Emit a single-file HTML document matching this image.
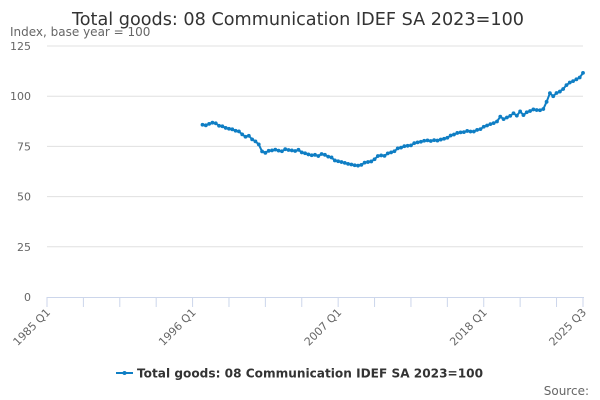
<!DOCTYPE html>
<html><head><meta charset="utf-8"><style>
html,body{margin:0;padding:0;background:#fff;}
svg{display:block;font-family:"DejaVu Sans","Liberation Sans",sans-serif;}
</style></head><body>
<svg id="chart" width="600" height="400" viewBox="0 0 600 400">
<text x="298" y="25" text-anchor="middle" font-size="18" fill="#333" textLength="452" lengthAdjust="spacingAndGlyphs">Total goods: 08 Communication IDEF SA 2023=100</text>
<text x="10" y="36" font-size="12" fill="#666">Index, base year = 100</text>
<g id="grid"></g>
<g id="yticks"></g>
<g id="xaxis"></g>
<g id="series"></g>
<g>
<line x1="116" y1="373" x2="133" y2="373" stroke="#0f7ec4" stroke-width="2"/>
<circle cx="124.5" cy="373" r="2" fill="#0f7ec4"/>
<text x="137" y="377.5" font-size="12" font-weight="bold" fill="#333" textLength="346" lengthAdjust="spacingAndGlyphs">Total goods: 08 Communication IDEF SA 2023=100</text>
</g>
<text x="589" y="395" text-anchor="end" font-size="12" fill="#666">Source:</text>
</svg>
<script>
const startQuarter = 47; // index from 1985 Q1
const values = [85.8,85.5,86.2,86.8,86.5,85.3,85.0,84.2,83.8,83.5,82.8,82.5,81.0,79.8,80.3,78.5,77.5,76.0,72.5,71.8,
72.8,73.0,73.4,72.9,72.6,73.6,73.2,73.0,72.7,73.3,72.0,71.6,71.0,70.6,70.8,70.2,71.2,70.8,69.9,69.5,
68.0,67.6,67.2,66.8,66.3,66.0,65.6,65.4,65.8,66.9,67.2,67.5,68.6,70.2,70.5,70.3,71.5,72.0,72.6,74.0,
74.4,75.1,75.3,75.5,76.6,77.0,77.3,77.8,78.0,77.7,78.1,77.9,78.4,78.8,79.3,80.4,80.9,81.7,82.0,82.1,
82.7,82.4,82.4,83.2,83.6,84.8,85.4,86.1,86.6,87.4,89.8,88.6,89.4,90.2,91.5,90.3,92.4,90.6,92.0,92.6,
93.4,93.1,93.0,93.6,97.2,101.5,100.0,101.6,102.3,103.6,105.5,106.8,107.5,108.4,109.3,111.6];
const yTicks = [0,25,50,75,100,125];
const xLabels = ["1985 Q1","1996 Q1","2007 Q1","2018 Q1","2025 Q3"];
const xLabelQuarters = [0,44,88,132,162];
const totalQuarters = 162;

const NS="http://www.w3.org/2000/svg";
const L=47,R=583,B=297,T=46;
const xs=q=>L+(R-L)*q/totalQuarters;
const ys=v=>B-(B-T)*v/125;
function mk(tag,attrs,parent){const e=document.createElementNS(NS,tag);for(const k in attrs)e.setAttribute(k,attrs[k]);parent.appendChild(e);return e;}
const grid=document.getElementById('grid'),yt=document.getElementById('yticks'),xa=document.getElementById('xaxis'),se=document.getElementById('series');
yTicks.forEach(v=>{
  if(v>0){const g=mk('line',{x1:L,x2:R,y1:ys(v),y2:ys(v),stroke:'#e0e0e0','stroke-width':1},grid);
  
  }
  const t=mk('text',{x:31,y:ys(v)+4,'text-anchor':'end','font-size':11,fill:'#666'},yt);
  t.textContent=v;
  
  
});
const ax=mk('line',{x1:L,x2:R+1,y1:B+0.5,y2:B+0.5,stroke:'#ccd6eb','stroke-width':1},xa);


const tickQs=[];for(let q=0;q<totalQuarters-5;q+=11)tickQs.push(q);tickQs.push(totalQuarters);
tickQs.forEach(q=>{const l=mk('line',{x1:xs(q),x2:xs(q),y1:B,y2:B+10,stroke:'#ccd6eb','stroke-width':1},xa);

});
xLabels.forEach((s,i)=>{const x=xs(xLabelQuarters[i]);
  const t=mk('text',{x:x+4,y:B+16,'text-anchor':'end','font-size':11,fill:'#666',transform:`rotate(-45 ${x+4} ${B+16})`},xa);
  t.textContent=s;
  
  });
const pts=values.map((v,i)=>[xs(startQuarter+i),ys(v)]);
const path=mk('polyline',{points:pts.map(p=>p.join(',')).join(' '),fill:'none',stroke:'#0f7ec4','stroke-width':2,'stroke-linejoin':'round'},se);


pts.forEach(p=>{const c=mk('circle',{cx:p[0],cy:p[1],r:1.9,fill:'#0f7ec4'},se);

});
</script>
</body></html>
